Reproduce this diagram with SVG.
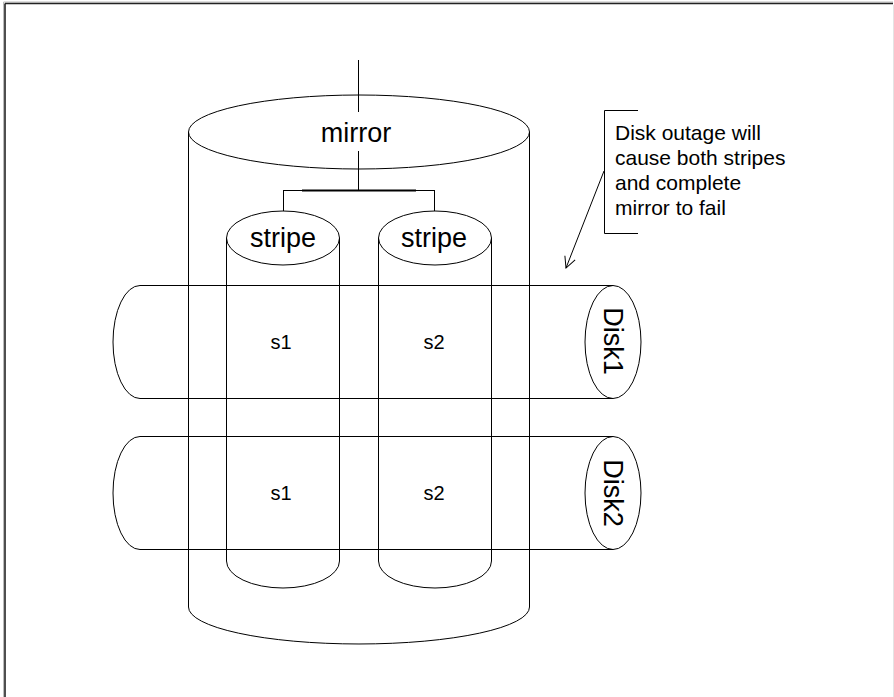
<svg xmlns="http://www.w3.org/2000/svg" width="894" height="697" viewBox="0 0 894 697">
  <defs>
    <style>
      .ln { fill: none; stroke: #000; stroke-width: 1; }
      .lbl { font-family: "Liberation Sans", Arial, sans-serif; fill: #000; }
      .big { font-size: 27px; text-anchor: middle; }
      .mid { font-size: 20px; text-anchor: middle; }
      .note { font-size: 21px; }
    </style>
    <marker id="openArrow" markerWidth="14" markerHeight="14" refX="12" refY="7" orient="auto" markerUnits="userSpaceOnUse">
      <path d="M1,1.5 L12,7 L1,12.5" fill="none" stroke="#000" stroke-width="1"/>
    </marker>
  </defs>

  <rect width="894" height="697" fill="#fff"/>

  <!-- page frame -->
  <g id="frame">
    <line x1="3.5" y1="2" x2="3.5" y2="697" stroke="#bbb" stroke-width="1"/>
    <line x1="3.5" y1="2" x2="893" y2="2" stroke="#bbb" stroke-width="1"/>
    <line x1="5" y1="3.5" x2="5" y2="697" stroke="#222" stroke-width="1.6"/>
    <line x1="5" y1="3.5" x2="893" y2="3.5" stroke="#222" stroke-width="1.6"/>
    <line x1="893.5" y1="5" x2="893.5" y2="697" stroke="#e4e4e4" stroke-width="1"/>
  </g>

  <!-- mirror volume -->
  <g id="mirror">
    <path class="ln" d="M188.5,132 V607 A170.5,37 0 0 0 529.5,607 V132"/>
    <ellipse class="ln" cx="359" cy="132" rx="170.5" ry="37"/>
    <text class="lbl big" x="356" y="142">mirror</text>
  </g>

  <!-- stripe volumes -->
  <g id="stripe1">
    <path class="ln" d="M226.5,238 V561 A56.5,27 0 0 0 339.5,561 V238"/>
    <ellipse class="ln" cx="283" cy="238" rx="56.5" ry="27"/>
    <text class="lbl big" x="283" y="247">stripe</text>
  </g>
  <g id="stripe2">
    <path class="ln" d="M378.5,238 V561 A56.5,27 0 0 0 491.5,561 V238"/>
    <ellipse class="ln" cx="435" cy="238" rx="56.5" ry="27"/>
    <text class="lbl big" x="434" y="247">stripe</text>
  </g>

  <!-- disks -->
  <g id="disk1">
    <path class="ln" d="M613,285.5 H140 A27,56.5 0 0 0 140,398.5 H613"/>
    <ellipse class="ln" cx="613" cy="342" rx="28" ry="56.5"/>
    <text class="lbl big" transform="translate(613,341) rotate(90)" y="9">Disk1</text>
  </g>
  <g id="disk2">
    <path class="ln" d="M613,436.5 H140 A27,56.5 0 0 0 140,549.5 H613"/>
    <ellipse class="ln" cx="613" cy="493" rx="28" ry="56.5"/>
    <text class="lbl big" transform="translate(613,493) rotate(90)" y="9">Disk2</text>
  </g>

  <!-- slices -->
  <g id="slices">
    <text class="lbl mid" x="281" y="349">s1</text>
    <text class="lbl mid" x="434" y="349">s2</text>
    <text class="lbl mid" x="281" y="500">s1</text>
    <text class="lbl mid" x="434" y="500">s2</text>
  </g>

  <!-- annotation -->
  <g id="note">
    <path class="ln" d="M638,110.5 H604.5 V233.5 H638"/>
    <text class="lbl note" x="615" y="140">Disk outage will</text>
    <text class="lbl note" x="615" y="165">cause both stripes</text>
    <text class="lbl note" x="615" y="190">and complete</text>
    <text class="lbl note" x="615" y="215">mirror to fail</text>
  </g>

  <!-- connectors -->
  <g id="connectors">
    <line class="ln" x1="358.5" y1="60" x2="358.5" y2="112"/>
    <line class="ln" x1="358.5" y1="151" x2="358.5" y2="190"/>
    <line class="ln" x1="283.5" y1="190.5" x2="434.5" y2="190.5"/>
    <line x1="302" y1="190.5" x2="416" y2="190.5" stroke="#000" stroke-width="2"/>
    <line class="ln" x1="283.5" y1="190" x2="283.5" y2="211"/>
    <line class="ln" x1="434.5" y1="190" x2="434.5" y2="211"/>
    <line class="ln" x1="604" y1="171" x2="566" y2="268" marker-end="url(#openArrow)"/>
  </g>
</svg>
